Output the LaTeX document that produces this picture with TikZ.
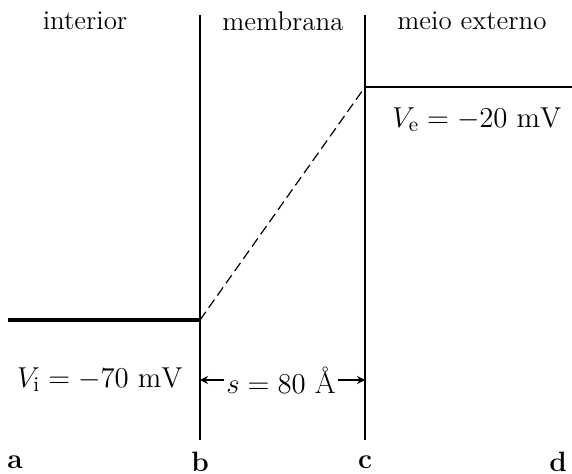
\documentclass[tikz,border=0pt]{standalone}
\usepackage{amsmath, amssymb}
\usetikzlibrary{arrows.meta}

\begin{document}
\begin{tikzpicture}[x=0.5pt, y=-0.5pt,
        region/.style={font=\fontsize{13.5}{15}\selectfont},
        letter/.style={font=\fontsize{14}{16}\selectfont\bfseries},
        potential/.style={font=\fontsize{15}{17}\selectfont}]
       \useasboundingbox (0,0) rectangle (572,474);

       % 1. Membrane walls b and c
       \coordinate (bTop) at (200,15);
       \coordinate (bBot) at (200,440);
       \coordinate (cTop) at (365,15);
       \coordinate (cBot) at (365,440);
       \draw[semithick] (bTop) -- (bBot);
       \draw[semithick] (cTop) -- (cBot);

       % 2. Potential levels inside and outside, linear drop across the membrane
       \coordinate (aLevel) at (8,320);
       \coordinate (bLevel) at (200,320);
       \coordinate (cLevel) at (365,87);
       \coordinate (dLevel) at (572,87);
       \draw[line width=1.6pt] (aLevel) -- (bLevel);
       \draw[semithick] (cLevel) -- (dLevel);
       \draw[semithick, dash pattern=on 5pt off 2.5pt] (bLevel) -- (cLevel);

       % 3. Region names
       \node[region] (inside) at (85,21) {interior};
       \node[region] (membrane) at (283,21) {membrana};
       \node[region] (outside) at (472,21) {meio externo};

       % 4. Potential values and thickness
       \node[potential] (vOut) at (477,120) {$V_{\text{e}} = -20\ \mathrm{mV}$};
       \node[potential] (vIn) at (100,380) {$V_{\text{i}} = -70\ \mathrm{mV}$};
       \node[potential, inner sep=1pt] (thick) at (281,380) {$s = 80\ \text{\AA}$};
       \draw[-{Stealth[length=4pt,width=4pt]}, semithick] (thick.west) -- (thick.west -| bBot);
       \draw[-{Stealth[length=4pt,width=4pt]}, semithick] (thick.east) -- (thick.east -| cBot);

       % 5. Position letters
       \node[letter] (a) at (15,462) {a};
       \node[letter] (b) at (200,462) {b};
       \node[letter] (c) at (365,462) {c};
       \node[letter] (d) at (558,462) {d};

    \end{tikzpicture}
\end{document}
